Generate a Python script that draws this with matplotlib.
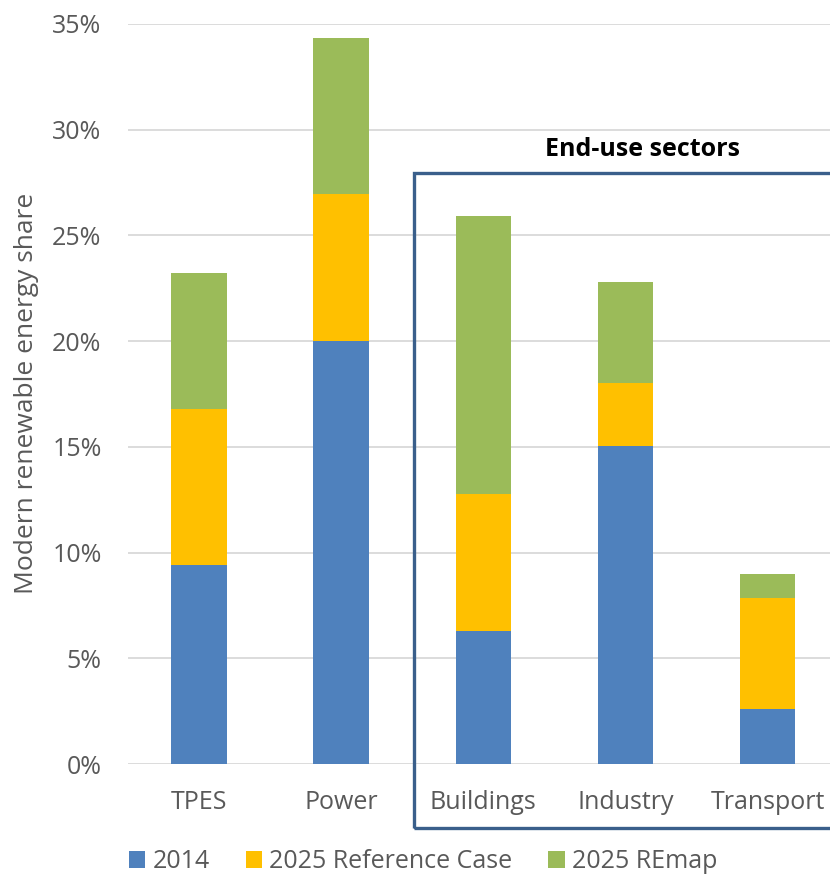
import matplotlib.pyplot as plt
from matplotlib.patches import Rectangle, Patch
from matplotlib.ticker import FuncFormatter

# Data (modern renewable energy share, %)
categories = ["TPES", "Power", "Buildings", "Industry", "Transport"]
share_2014 = [9.4, 20.0, 6.3, 15.05, 2.6]
total_2025_ref = [16.8, 26.95, 12.75, 18.0, 7.85]
total_2025_remap = [23.2, 34.35, 25.9, 22.8, 9.0]

series_labels = ["2014", "2025 Reference Case", "2025 REmap"]
colors = ["#4F81BD", "#FFC000", "#9BBB59"]

plt.rcParams["font.family"] = ["Open Sans", "DejaVu Sans"]
text_col = "#595959"

W, H = 830, 874
fig = plt.figure(figsize=(W / 100, H / 100), dpi=100)
ax = fig.add_axes([128 / W, 1 - 764 / H, 1 - 128 / W, (764 - 24) / H])

x = range(len(categories))
ref_inc = [r - b for r, b in zip(total_2025_ref, share_2014)]
remap_inc = [m - r for m, r in zip(total_2025_remap, total_2025_ref)]
width = 0.39
ax.bar(x, share_2014, width, color=colors[0], zorder=3)
ax.bar(x, ref_inc, width, bottom=share_2014, color=colors[1], zorder=3)
ax.bar(x, remap_inc, width, bottom=total_2025_ref, color=colors[2], zorder=3)

ax.set_xlim(-0.5, 4.44)
ax.set_ylim(0, 35)
ax.set_yticks(range(0, 36, 5))
ax.yaxis.set_major_formatter(FuncFormatter(lambda v, p: "%d%%" % v))
ax.grid(axis="y", color="#D9D9D9", linewidth=1.3, zorder=0)
for s in ax.spines.values():
    s.set_visible(False)
ax.tick_params(axis="both", length=0, labelsize=18, colors=text_col)
ax.tick_params(axis="y", pad=19)
ax.tick_params(axis="x", pad=19)
ax.set_xticks(list(x))
ax.set_xticklabels(categories)
fig.text(27 / W, 1 - 393 / H, "Modern renewable energy share", rotation=90,
         ha="center", va="center", fontsize=19, color=text_col)

# End-use sectors box
box = Rectangle((414 / W, 1 - 828 / H), (845 - 414) / W, (828 - 173) / H,
                transform=fig.transFigure, fill=False, edgecolor="#3A5F8B",
                linewidth=2.4, clip_on=False)
fig.patches.append(box)
fig.text(642 / W, 1 - 149 / H, "End-use sectors", ha="center", va="center",
         fontsize=18, fontweight="bold", color="black")

# Legend
handles = [Patch(facecolor=c, edgecolor="none") for c in colors]
fig.legend(handles, series_labels, loc="center left",
           bbox_to_anchor=(129 / W, 1 - 862 / H), ncol=3, frameon=False,
           fontsize=18, labelcolor=text_col, handlelength=0.65,
           handleheight=0.65, handletextpad=0.28, columnspacing=1.45,
           borderaxespad=0, borderpad=0)

fig.savefig("out.png", dpi=100)
